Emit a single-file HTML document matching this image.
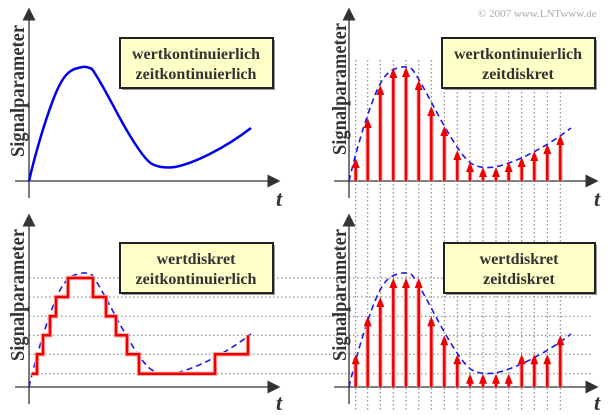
<!DOCTYPE html>
<html><head><meta charset="utf-8"><style>
html,body{margin:0;padding:0;background:#fff;}
svg{display:block;}
</style></head><body>
<svg width="612" height="415" viewBox="0 0 612 415" xmlns="http://www.w3.org/2000/svg">
<defs>
<path id="crv" d="M29,181 C35,155 45,120 55,95 C62,78 68,70 78,68 C85,66 88,67 92,69 C100,80 110,100 122,122 C135,145 145,160 152,164 C160,168 168,168 175,167 C195,163 225,148 251,128"/>
<marker id="ah" markerWidth="10" markerHeight="10" refX="5" refY="5" orient="auto"><path d="M0,0 L10,5 L0,10 Z" fill="#333"/></marker>
</defs>
<rect width="612" height="415" fill="#fff"/>
<g stroke="#777" stroke-width="1" stroke-dasharray="1.5,2.5">
<line x1="355.7" y1="60" x2="355.7" y2="410"/><line x1="367.7" y1="60" x2="367.7" y2="410"/><line x1="380.3" y1="60" x2="380.3" y2="410"/><line x1="393.3" y1="60" x2="393.3" y2="410"/><line x1="406" y1="60" x2="406" y2="410"/><line x1="418.7" y1="60" x2="418.7" y2="410"/><line x1="431.3" y1="60" x2="431.3" y2="410"/><line x1="444.3" y1="60" x2="444.3" y2="410"/><line x1="457.3" y1="60" x2="457.3" y2="410"/><line x1="470" y1="60" x2="470" y2="410"/><line x1="483" y1="60" x2="483" y2="410"/><line x1="496" y1="60" x2="496" y2="410"/><line x1="508.7" y1="60" x2="508.7" y2="410"/><line x1="521.7" y1="60" x2="521.7" y2="410"/><line x1="534.3" y1="60" x2="534.3" y2="410"/><line x1="547.3" y1="60" x2="547.3" y2="410"/><line x1="560.3" y1="60" x2="560.3" y2="410"/>
<line x1="29" y1="278" x2="593" y2="278"/><line x1="29" y1="297" x2="593" y2="297"/><line x1="29" y1="316.3" x2="593" y2="316.3"/><line x1="29" y1="335.3" x2="593" y2="335.3"/><line x1="29" y1="354.3" x2="593" y2="354.3"/><line x1="29" y1="373.7" x2="593" y2="373.7"/>
</g>
<g stroke="#333" stroke-width="1.3" fill="none">
<line x1="29" y1="198" x2="29" y2="14" marker-end="url(#ah)"/>
<line x1="15" y1="181" x2="274" y2="181" marker-end="url(#ah)"/>
<line x1="349" y1="198" x2="349" y2="14" marker-end="url(#ah)"/>
<line x1="334" y1="181" x2="592" y2="181" marker-end="url(#ah)"/>
<line x1="29" y1="404" x2="29" y2="220" marker-end="url(#ah)"/>
<line x1="15" y1="387" x2="274" y2="387" marker-end="url(#ah)"/>
<line x1="349" y1="404" x2="349" y2="220" marker-end="url(#ah)"/>
<line x1="334" y1="387" x2="592" y2="387" marker-end="url(#ah)"/>
</g>
<use href="#crv" fill="none" stroke="#0000ee" stroke-width="2.5"/>
<use href="#crv" transform="translate(320,0)" fill="none" stroke="#1a1aee" stroke-width="1.6" stroke-dasharray="6,4"/>
<use href="#crv" transform="translate(0,206)" fill="none" stroke="#1a1aee" stroke-width="1.6" stroke-dasharray="6,4"/>
<use href="#crv" transform="translate(320,206)" fill="none" stroke="#1a1aee" stroke-width="1.6" stroke-dasharray="6,4"/>
<polyline fill="none" stroke="#ffb0b0" stroke-width="4.5" points="31.7,373.7 37,373.7 37,354.3 43,354.3 43,335.3 50,335.3 50,316.3 56,316.3 56,297 68,297 68,278 93,278 93,297 106,297 106,316.3 116,316.3 116,335.3 127,335.3 127,354.3 139,354.3 139,373.7 215,373.7 215,354.3 248,354.3 248,335.3"/>
<polyline fill="none" stroke="#ee0000" stroke-width="2.5" points="31.7,373.7 37,373.7 37,354.3 43,354.3 43,335.3 50,335.3 50,316.3 56,316.3 56,297 68,297 68,278 93,278 93,297 106,297 106,316.3 116,316.3 116,335.3 127,335.3 127,354.3 139,354.3 139,373.7 215,373.7 215,354.3 248,354.3 248,335.3"/>
<g>
<g stroke="#ffb0b0" stroke-width="4.5">
<line x1="355.7" y1="181" x2="355.7" y2="162"/><line x1="367.7" y1="181" x2="367.7" y2="122"/><line x1="380.3" y1="181" x2="380.3" y2="89"/><line x1="393.3" y1="181" x2="393.3" y2="72"/><line x1="406" y1="181" x2="406" y2="71"/><line x1="418.7" y1="181" x2="418.7" y2="84"/><line x1="431.3" y1="181" x2="431.3" y2="110"/><line x1="444.3" y1="181" x2="444.3" y2="130"/><line x1="457.3" y1="181" x2="457.3" y2="154"/><line x1="470" y1="181" x2="470" y2="166"/><line x1="483" y1="181" x2="483" y2="171"/><line x1="496" y1="181" x2="496" y2="171"/><line x1="508.7" y1="181" x2="508.7" y2="166"/><line x1="521.7" y1="181" x2="521.7" y2="161"/><line x1="534.3" y1="181" x2="534.3" y2="155"/><line x1="547.3" y1="181" x2="547.3" y2="148"/><line x1="560.3" y1="181" x2="560.3" y2="139"/>
</g>
<g stroke="#ee0000" stroke-width="2.5">
<line x1="355.7" y1="181" x2="355.7" y2="162"/><line x1="367.7" y1="181" x2="367.7" y2="122"/><line x1="380.3" y1="181" x2="380.3" y2="89"/><line x1="393.3" y1="181" x2="393.3" y2="72"/><line x1="406" y1="181" x2="406" y2="71"/><line x1="418.7" y1="181" x2="418.7" y2="84"/><line x1="431.3" y1="181" x2="431.3" y2="110"/><line x1="444.3" y1="181" x2="444.3" y2="130"/><line x1="457.3" y1="181" x2="457.3" y2="154"/><line x1="470" y1="181" x2="470" y2="166"/><line x1="483" y1="181" x2="483" y2="171"/><line x1="496" y1="181" x2="496" y2="171"/><line x1="508.7" y1="181" x2="508.7" y2="166"/><line x1="521.7" y1="181" x2="521.7" y2="161"/><line x1="534.3" y1="181" x2="534.3" y2="155"/><line x1="547.3" y1="181" x2="547.3" y2="148"/><line x1="560.3" y1="181" x2="560.3" y2="139"/>
</g>
<g fill="#ee0000">
<path d="M351.7,168 L355.7,158 L359.7,168Z"/><path d="M363.7,128 L367.7,118 L371.7,128Z"/><path d="M376.3,95 L380.3,85 L384.3,95Z"/><path d="M389.3,78 L393.3,68 L397.3,78Z"/><path d="M402,77 L406,67 L410,77Z"/><path d="M414.7,90 L418.7,80 L422.7,90Z"/><path d="M427.3,116 L431.3,106 L435.3,116Z"/><path d="M440.3,136 L444.3,126 L448.3,136Z"/><path d="M453.3,160 L457.3,150 L461.3,160Z"/><path d="M466,172 L470,162 L474,172Z"/><path d="M479,177 L483,167 L487,177Z"/><path d="M492,177 L496,167 L500,177Z"/><path d="M504.7,172 L508.7,162 L512.7,172Z"/><path d="M517.7,167 L521.7,157 L525.7,167Z"/><path d="M530.3,161 L534.3,151 L538.3,161Z"/><path d="M543.3,154 L547.3,144 L551.3,154Z"/><path d="M556.3,145 L560.3,135 L564.3,145Z"/>
</g>
</g>
<g>
<g stroke="#ffb0b0" stroke-width="4.5">
<line x1="355.7" y1="387" x2="355.7" y2="358"/><line x1="367.7" y1="387" x2="367.7" y2="320"/><line x1="380.3" y1="387" x2="380.3" y2="301"/><line x1="393.3" y1="387" x2="393.3" y2="282"/><line x1="406" y1="387" x2="406" y2="282"/><line x1="418.7" y1="387" x2="418.7" y2="282"/><line x1="431.3" y1="387" x2="431.3" y2="320"/><line x1="444.3" y1="387" x2="444.3" y2="339"/><line x1="457.3" y1="387" x2="457.3" y2="358"/><line x1="470" y1="387" x2="470" y2="377"/><line x1="483" y1="387" x2="483" y2="377"/><line x1="496" y1="387" x2="496" y2="377"/><line x1="508.7" y1="387" x2="508.7" y2="377"/><line x1="521.7" y1="387" x2="521.7" y2="358"/><line x1="534.3" y1="387" x2="534.3" y2="358"/><line x1="547.3" y1="387" x2="547.3" y2="358"/><line x1="560.3" y1="387" x2="560.3" y2="339"/>
</g>
<g stroke="#ee0000" stroke-width="2.5">
<line x1="355.7" y1="387" x2="355.7" y2="358"/><line x1="367.7" y1="387" x2="367.7" y2="320"/><line x1="380.3" y1="387" x2="380.3" y2="301"/><line x1="393.3" y1="387" x2="393.3" y2="282"/><line x1="406" y1="387" x2="406" y2="282"/><line x1="418.7" y1="387" x2="418.7" y2="282"/><line x1="431.3" y1="387" x2="431.3" y2="320"/><line x1="444.3" y1="387" x2="444.3" y2="339"/><line x1="457.3" y1="387" x2="457.3" y2="358"/><line x1="470" y1="387" x2="470" y2="377"/><line x1="483" y1="387" x2="483" y2="377"/><line x1="496" y1="387" x2="496" y2="377"/><line x1="508.7" y1="387" x2="508.7" y2="377"/><line x1="521.7" y1="387" x2="521.7" y2="358"/><line x1="534.3" y1="387" x2="534.3" y2="358"/><line x1="547.3" y1="387" x2="547.3" y2="358"/><line x1="560.3" y1="387" x2="560.3" y2="339"/>
</g>
<g fill="#ee0000">
<path d="M351.7,364.3 L355.7,354.3 L359.7,364.3Z"/><path d="M363.7,326.3 L367.7,316.3 L371.7,326.3Z"/><path d="M376.3,307 L380.3,297 L384.3,307Z"/><path d="M389.3,288 L393.3,278 L397.3,288Z"/><path d="M402,288 L406,278 L410,288Z"/><path d="M414.7,288 L418.7,278 L422.7,288Z"/><path d="M427.3,326.3 L431.3,316.3 L435.3,326.3Z"/><path d="M440.3,345.3 L444.3,335.3 L448.3,345.3Z"/><path d="M453.3,364.3 L457.3,354.3 L461.3,364.3Z"/><path d="M466,383.7 L470,373.7 L474,383.7Z"/><path d="M479,383.7 L483,373.7 L487,383.7Z"/><path d="M492,383.7 L496,373.7 L500,383.7Z"/><path d="M504.7,383.7 L508.7,373.7 L512.7,383.7Z"/><path d="M517.7,364.3 L521.7,354.3 L525.7,364.3Z"/><path d="M530.3,364.3 L534.3,354.3 L538.3,364.3Z"/><path d="M543.3,364.3 L547.3,354.3 L551.3,364.3Z"/><path d="M556.3,345.3 L560.3,335.3 L564.3,345.3Z"/>
</g>
</g>
<g fill="#999">
<rect x="122" y="40" width="153" height="50"/>
<rect x="444" y="40" width="153" height="50"/>
<rect x="122" y="245" width="153" height="50"/>
<rect x="446" y="245" width="151" height="50"/>
</g>
<g fill="#ffffc8" stroke="#222" stroke-width="2">
<rect x="120" y="38" width="153" height="50"/>
<rect x="442" y="38" width="153" height="50"/>
<rect x="120" y="243" width="153" height="50"/>
<rect x="444" y="243" width="151" height="50"/>
</g>
<g font-family="Liberation Serif, serif" font-weight="bold" fill="#333" font-size="16" text-anchor="middle">
<text x="196" y="59">wertkontinuierlich</text><text x="196" y="79">zeitkontinuierlich</text>
<text x="518" y="59">wertkontinuierlich</text><text x="518" y="79">zeitdiskret</text>
<text x="196" y="264">wertdiskret</text><text x="196" y="284">zeitkontinuierlich</text>
<text x="519" y="264">wertdiskret</text><text x="519" y="284">zeitdiskret</text>
</g>
<g font-family="Liberation Serif, serif" font-weight="bold" fill="#333" font-size="20" text-anchor="middle">
<text transform="translate(24,91) rotate(-90)" textLength="132" lengthAdjust="spacingAndGlyphs">Signalparameter</text>
<text transform="translate(346,89) rotate(-90)" textLength="132" lengthAdjust="spacingAndGlyphs">Signalparameter</text>
<text transform="translate(24,295) rotate(-90)" textLength="132" lengthAdjust="spacingAndGlyphs">Signalparameter</text>
<text transform="translate(346,295) rotate(-90)" textLength="132" lengthAdjust="spacingAndGlyphs">Signalparameter</text>
</g>
<g font-family="Liberation Serif, serif" font-weight="bold" fill="#333" font-size="22" font-style="italic">
<text x="276" y="206">t</text><text x="594" y="206">t</text>
<text x="276" y="410">t</text><text x="594" y="410">t</text>
</g>
<text x="478" y="17" font-family="Liberation Serif, serif" font-size="11" fill="#aaa">© 2007 www.LNTwww.de</text>
</svg>
</body></html>
